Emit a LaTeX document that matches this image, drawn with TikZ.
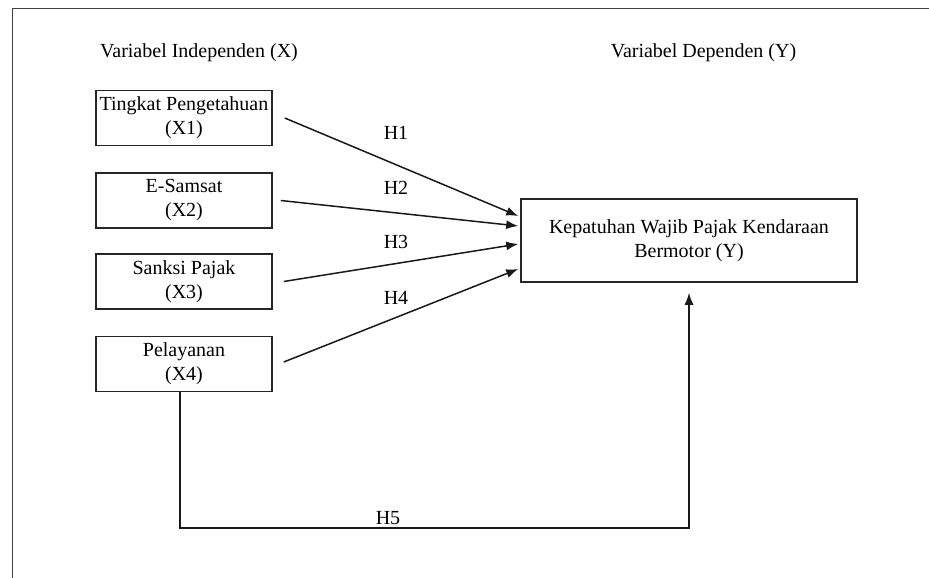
\documentclass[tikz,border=0pt]{standalone}
\usepackage{fontspec}
\setmainfont{Liberation Serif}
\usetikzlibrary{arrows.meta}
\begin{document}
\begin{tikzpicture}[x=1pt,y=-1pt,
  varbox/.style={draw=black!85, line width=1.5pt, minimum width=176pt, minimum height=55pt, inner sep=0pt, align=center, font=\fontsize{20}{24}\selectfont},
  ybox/.style={draw=black!85, line width=1.5pt, minimum width=336pt, minimum height=83pt, inner sep=0pt, align=center, font=\fontsize{20}{24}\selectfont},
  lbl/.style={inner sep=0pt, font=\fontsize{20}{24}\selectfont},
  conn/.style={draw=black!90, line width=1.5pt, -{Latex[length=12pt,width=9pt]}},
  frameline/.style={draw=black!75, line width=1.6pt}]
\useasboundingbox (0,0) rectangle (929,578);
% outer frame (open on right and bottom)
\coordinate (ftr) at (929,8.5);
\coordinate (ftl) at (12.5,8.5);
\coordinate (fbl) at (12.5,578);
\draw[frameline] (ftr) -- (ftl) -- (fbl);
% headings
\node[lbl, anchor=base] (hx) at (199,58) {Variabel Independen (X)};
\node[lbl, anchor=base] (hy) at (703.5,58) {Variabel Dependen (Y)};
% boxes
\node[varbox] (x1) at (184,118) {Tingkat Pengetahuan\\(X1)};
\node[varbox] (x2) at (184,200.5) {E-Samsat\\(X2)};
\node[varbox] (x3) at (184,281.5) {Sanksi Pajak\\(X3)};
\node[varbox] (x4) at (184,364) {Pelayanan\\(X4)};
\node[ybox] (y) at (689,240.5) {Kepatuhan Wajib Pajak Kendaraan\\Bermotor (Y)};
% arrows H1-H4
\draw[conn] ([xshift=12pt]x1.east) -- ([xshift=-2pt,yshift=24.5pt]y.west);
\draw[conn] ([xshift=8pt]x2.east) -- ([xshift=-2pt,yshift=14.5pt]y.west);
\draw[conn] ([xshift=11pt]x3.east) -- ([xshift=-2pt,yshift=-3.5pt]y.west);
\draw[conn] ([xshift=11pt,yshift=2pt]x4.east) -- ([xshift=-2pt,yshift=-28.5pt]y.west);
% labels
\node[lbl] (h1) at (396,133) {H1};
\node[lbl] (h2) at (396,188) {H2};
\node[lbl] (h3) at (396,242) {H3};
\node[lbl] (h4) at (396,298) {H4};
% H5 path
\coordinate (bl) at (180,528);
\coordinate (br) at (689,528);
\draw[conn] ([xshift=-4pt]x4.south) -- (bl) -- (br) -- ([yshift=-10pt]y.south);
\node[lbl] (h5) at (388,518) {H5};
\end{tikzpicture}
\end{document}
